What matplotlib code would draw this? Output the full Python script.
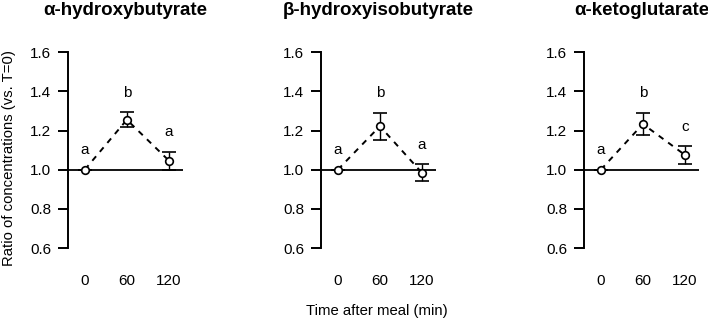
import matplotlib.pyplot as plt

plt.rcParams['font.family'] = ['Liberation Sans', 'DejaVu Sans']

times = [0, 60, 120]
titles = ['α-hydroxybutyrate', 'β-hydroxyisobutyrate', 'α-ketoglutarate']

hb_mean = [1.0, 1.255, 1.046]
hb_se = [0.0, 0.037, 0.046]
hb_letters = ['a', 'b', 'a']

hib_mean = [1.0, 1.222, 0.984]
hib_se = [0.0, 0.068, 0.044]
hib_letters = ['a', 'b', 'a']

kg_mean = [1.0, 1.233, 1.075]
kg_se = [0.0, 0.056, 0.044]
kg_letters = ['a', 'b', 'c']

yticks = [0.6, 0.8, 1.0, 1.2, 1.4, 1.6]

fig = plt.figure(figsize=(7.08, 3.19), dpi=100)

lefts = [0.096, 0.4534, 0.8249]
means = [hb_mean, hib_mean, kg_mean]
ses = [hb_se, hib_se, kg_se]
letters = [hb_letters, hib_letters, kg_letters]

for i in range(3):
    ax = fig.add_axes([lefts[i], 0.198, 0.1624, 0.663])
    ax.axhline(1.0, color='black', linewidth=1.3, zorder=1)
    ax.plot(times, means[i], color='black', linewidth=1.4,
            linestyle=(0, (3, 3)), zorder=2)
    ax.errorbar(times, means[i], yerr=ses[i], fmt='o', color='black',
                markerfacecolor='white', markersize=5.5, markeredgewidth=1.2,
                elinewidth=1.0, capsize=5, capthick=1.0, zorder=3)
    for t, m, s, lab in zip(times, means[i], ses[i], letters[i]):
        ax.text(t, m + s + 0.1, lab, ha='center', va='center', fontsize=11)

    ax.set_xlim(-24, 140)
    ax.set_ylim(0.56, 1.64)
    ax.set_xticks(times)
    ax.set_xticklabels([str(t) for t in times])
    ax.set_yticks(yticks)
    ax.set_yticklabels(['%.1f' % v for v in yticks])
    ax.spines['top'].set_visible(False)
    ax.spines['right'].set_visible(False)
    ax.spines['bottom'].set_visible(False)
    ax.spines['left'].set_bounds(0.6, 1.6)
    ax.spines['left'].set_linewidth(1.4)
    ax.tick_params(axis='y', length=7, width=1.4, pad=5, labelsize=11)
    ax.tick_params(axis='x', length=0, pad=13, labelsize=11)
    ax.set_title(titles[i], fontsize=13.5, fontweight='bold', pad=21)

fig.text(0.013, 0.505, 'Ratio of concentrations (vs. T=0)', rotation=90,
         ha='center', va='center', fontsize=10.7)
fig.text(0.532, 0.025, 'Time after meal (min)', ha='center', va='center',
         fontsize=10.7)

plt.savefig('out.png', dpi=100)
